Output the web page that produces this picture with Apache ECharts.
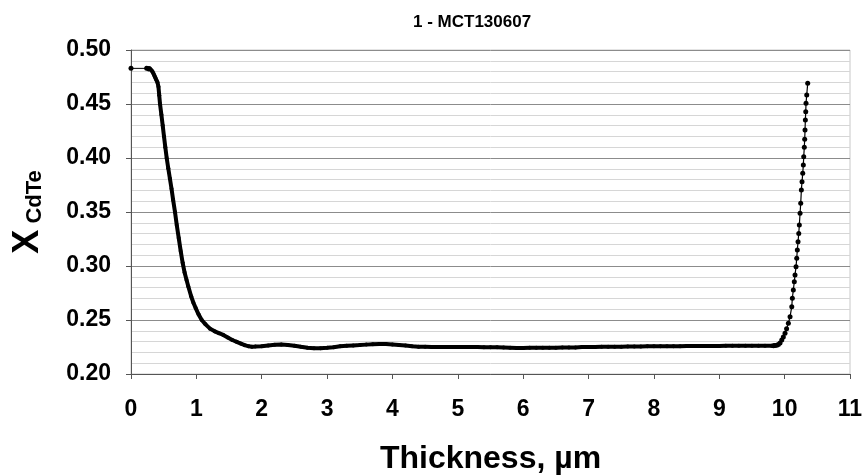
<!DOCTYPE html>
<html>
<head>
<meta charset="utf-8">
<script src="https://cdn.jsdelivr.net/npm/echarts@6/dist/echarts.min.js"></script>
<style>html,body{margin:0;padding:0;background:#fff;}#c{width:863px;height:476px;}</style>
</head>
<body>
<div id="c"></div>
<script>
var chartTitle = '1 - MCT130607';
var xAxisName = 'Thickness, µm';
var xTicks = [0, 11, 1];
var yTicks = [0.20, 0.50, 0.05];

// lead-in segment (surface point)
var leadThickness = [0.000, 0.240];
var leadX = [0.483, 0.483];

// main profile (descent + plateau)
var bodyThickness = [0.240,0.255,0.270,0.285,0.300,0.315,0.330,0.345,0.360,0.375,0.390,0.405,0.420,0.432,0.444,0.465,0.485,0.505,0.525,0.546,0.570,0.595,0.620,0.645,0.673,0.700,0.730,0.760,0.790,0.820,0.850,0.877,0.920,0.955,0.990,1.035,1.082,1.140,1.209,1.280,1.345,1.412,1.480,1.550,1.617,1.680,1.740,1.800,1.85,1.90,2.00,2.10,2.20,2.30,2.40,2.50,2.60,2.70,2.80,2.90,3.00,3.10,3.20,3.30,3.40,3.50,3.60,3.70,3.80,3.90,4.00,4.10,4.20,4.30,4.40,4.50,4.60,4.70,4.80,4.90,5.00,5.10,5.20,5.30,5.40,5.50,5.60,5.70,5.80,5.90,6.00,6.10,6.20,6.30,6.40,6.50,6.60,6.70,6.80,6.90,7.00,7.10,7.20,7.30,7.40,7.50,7.60,7.70,7.80,7.90,8.00,8.10,8.20,8.30,8.40,8.50,8.60,8.70,8.80,8.90,9.00,9.10,9.20,9.30,9.40,9.50,9.60,9.70,9.80,9.83];
var bodyX = [0.483,0.483,0.482,0.483,0.482,0.481,0.480,0.478,0.476,0.474,0.472,0.470,0.466,0.458,0.450,0.440,0.430,0.420,0.410,0.400,0.3905,0.381,0.3715,0.361,0.350,0.338,0.326,0.314,0.303,0.294,0.287,0.281,0.272,0.266,0.261,0.255,0.250,0.246,0.242,0.2395,0.2378,0.2362,0.2338,0.2315,0.2298,0.2282,0.2267,0.2256,0.2253,0.2254,0.2258,0.2264,0.2270,0.2274,0.2269,0.2262,0.2252,0.2243,0.2238,0.2239,0.2242,0.2248,0.2256,0.2261,0.2265,0.2268,0.2272,0.2276,0.2278,0.2277,0.2274,0.2269,0.2263,0.2257,0.2253,0.2253,0.2251,0.2251,0.2251,0.2251,0.2249,0.2249,0.2249,0.2249,0.2247,0.2247,0.2247,0.2245,0.2243,0.2241,0.2241,0.2243,0.2243,0.2243,0.2243,0.2243,0.2245,0.2246,0.2246,0.2249,0.2250,0.2250,0.2252,0.2252,0.2252,0.2252,0.2254,0.2254,0.2254,0.2256,0.2256,0.2256,0.2258,0.2258,0.2258,0.2260,0.2260,0.2260,0.2260,0.2260,0.2260,0.2262,0.2262,0.2262,0.2262,0.2262,0.2262,0.2262,0.2261,0.2262];

// steep rise at the substrate interface
var riseThickness = [9.83,9.85,9.88,9.904,9.93,9.956,9.98,10.006,10.03,10.057,10.083,10.109,10.118,10.133,10.148,10.159,10.174,10.185,10.194,10.205,10.216,10.225,10.236,10.246,10.256,10.266,10.277,10.286,10.292,10.301,10.307,10.312,10.317,10.323,10.327,10.338,10.353];
var riseX = [0.2262,0.2263,0.2266,0.2272,0.2288,0.2315,0.2342,0.2377,0.2418,0.2469,0.2531,0.2623,0.2701,0.2778,0.2855,0.2917,0.2994,0.3071,0.3148,0.3225,0.3302,0.3380,0.3488,0.3580,0.3704,0.3781,0.3858,0.3935,0.4012,0.4099,0.4173,0.4259,0.4352,0.4429,0.4506,0.4583,0.4691];

function pairs(xs, ys){ var o=[]; for(var i=0;i<xs.length;i++){ o.push([xs[i], ys[i]]); } return o; }

var FONT = '"Liberation Sans", Arial, sans-serif';
var chart = echarts.init(document.getElementById('c'), null, {renderer:'canvas'});
chart.setOption({
  animation: false,
  backgroundColor: '#ffffff',
  title: {
    text: chartTitle, left: 408, top: 9,
    textStyle: {fontFamily: FONT, fontSize: 17, fontWeight: 'bold', color: '#000'}
  },
  grid: {left: 131, right: 13, top: 50, bottom: 102, containLabel: false, outerBoundsMode: 'none',
    show: true, borderColor: '#c8c8c8', borderWidth: 1, backgroundColor: 'transparent'},
  xAxis: {
    type: 'value', min: xTicks[0], max: xTicks[1], interval: xTicks[2],
    name: xAxisName, nameLocation: 'middle', nameGap: 69,
    nameTextStyle: {fontFamily: FONT, fontSize: 32, fontWeight: 'bold', color: '#000'},
    axisLine: {show: true, lineStyle: {color: '#555', width: 1}},
    axisTick: {show: true, inside: false, length: 5, lineStyle: {color: '#555'}},
    axisLabel: {fontFamily: FONT, fontSize: 23, fontWeight: 'bold', color: '#000', margin: 24},
    splitLine: {show: false}
  },
  yAxis: {
    type: 'value', min: yTicks[0], max: yTicks[1], interval: yTicks[2],
    name: '{x|X}{s| CdTe}', nameLocation: 'middle', nameGap: 85, nameRotate: 90,
    nameTextStyle: {
      rich: {
        x: {fontFamily: FONT, fontSize: 36, fontWeight: 'bold', color: '#000', verticalAlign: 'bottom'},
        s: {fontFamily: FONT, fontSize: 22, fontWeight: 'bold', color: '#000', verticalAlign: 'bottom'}
      }
    },
    axisLine: {show: true, lineStyle: {color: '#555', width: 1}},
    axisTick: {show: true, inside: false, length: 5, lineStyle: {color: '#555'}},
    axisLabel: {fontFamily: FONT, fontSize: 23, fontWeight: 'bold', color: '#000', margin: 20,
      formatter: function(v){ return v.toFixed(2); }},
    splitLine: {show: true, lineStyle: {color: '#8c8c8c', width: 1}},
    minorTick: {show: false, splitNumber: 5},
    minorSplitLine: {show: true, lineStyle: {color: '#d6d6d6', width: 1}}
  },
  series: [
    {type: 'line', data: pairs(leadThickness, leadX), symbol: 'circle', symbolSize: 5, showSymbol: true,
     lineStyle: {color: '#000', width: 1}, itemStyle: {color: '#000'}, z: 3},
    {type: 'line', data: pairs(bodyThickness, bodyX), symbol: 'circle', symbolSize: 4, showSymbol: true, showAllSymbol: true,
     lineStyle: {color: '#000', width: 4}, itemStyle: {color: '#000'}, z: 3},
    {type: 'line', data: pairs(riseThickness, riseX), symbol: 'circle', symbolSize: 5, showSymbol: true, showAllSymbol: true,
     lineStyle: {color: '#000', width: 1.2}, itemStyle: {color: '#000'}, z: 3}
  ]
});
</script>
</body>
</html>
